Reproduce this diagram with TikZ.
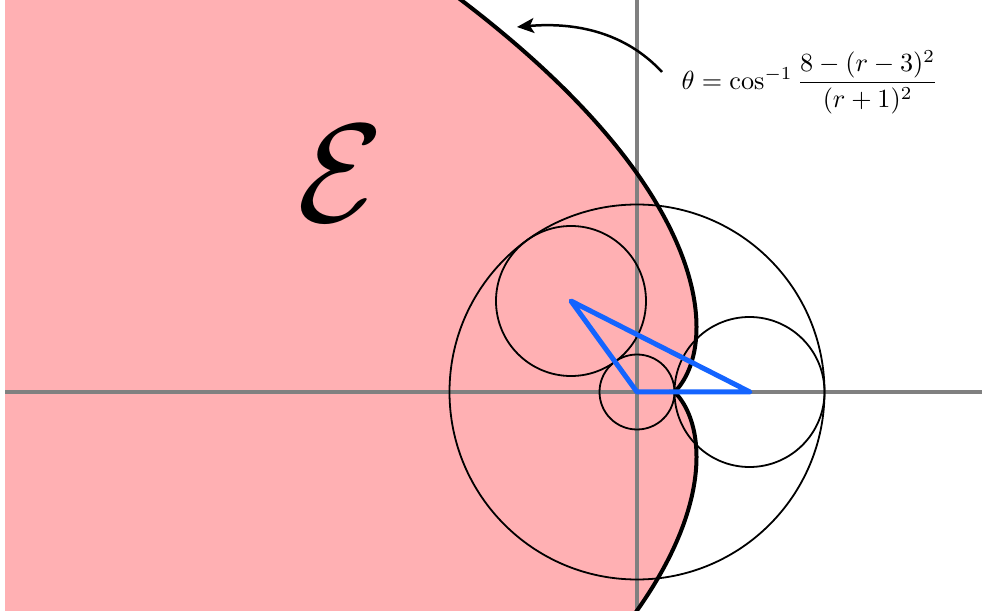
\documentclass[tikz,border=0pt]{standalone}
\usetikzlibrary{arrows.meta}
\definecolor{regionpink}{RGB}{255,176,179}
\definecolor{axisgray}{RGB}{128,128,128}
\definecolor{triblue}{RGB}{20,100,255}
\begin{document}
\begin{tikzpicture}[x=0.5pt,y=-0.5pt,
  declare function={th(\r)=acos(max(-1,min(1,(8-(\r-3)*(\r-3))/((\r+1)*(\r+1)))));},
  axisline/.style={draw=axisgray,line width=2.2pt},
  thincircle/.style={draw=black,line width=0.9pt},
  boundary/.style={draw=black,line width=2pt},
  triangle/.style={draw=triblue,line width=2.5pt,line join=round},
  pointer/.style={draw=black,line width=1.25pt,-{Stealth[length=8.5pt,width=7.5pt,inset=2pt]}}]
\useasboundingbox (0,0) rectangle (982,615);
\coordinate (O) at (637,392);
\coordinate (C1) at (571,301);
\coordinate (P) at (750,392);
\coordinate (C2) at (749.5,392);
\coordinate (axL) at (5,392);
\coordinate (axR) at (982,392);
\coordinate (axT) at (637,0);
\coordinate (axB) at (637,610);
\coordinate (arrS) at (662,72);
\coordinate (arrE) at (517,27);
\begin{scope}
\clip (5,0) rectangle (982,610);
% region E
\fill[regionpink]
  plot[domain=12:1,samples=300,smooth] ({637+37.5*\x*cos(th(\x))},{392-37.5*\x*sin(th(\x))})
  -- plot[domain=1:12,samples=300,smooth] ({637+37.5*\x*cos(th(\x))},{392+37.5*\x*sin(th(\x))})
  -- (0,800) -- (0,-20) -- cycle;
% axes
\draw[axisline] (axL) -- (axR);
\draw[axisline] (axT) -- (axB);
% circles
\draw[thincircle] (O) circle[radius=37.5];
\draw[thincircle] (O) circle[radius=187.5];
\draw[thincircle] (C2) circle[radius=75];
\draw[thincircle] (C1) circle[radius=75];
% boundary curve
\draw[boundary]
  plot[domain=12:1,samples=300,smooth] ({637+37.5*\x*cos(th(\x))},{392-37.5*\x*sin(th(\x))})
  -- plot[domain=1:12,samples=300,smooth] ({637+37.5*\x*cos(th(\x))},{392+37.5*\x*sin(th(\x))});
\end{scope}
% triangle
\draw[triangle] (O) -- (C1) -- (P) -- cycle;
% pointer arrow
\draw[pointer] (arrS) .. controls (625,32) and (575,22) .. (arrE);
% labels
\node (calE) at (341,174) [scale=7] {$\mathcal{E}$};
\node (formula) [anchor=west,scale=1.31,inner sep=0pt] at (681,82)
  {$\theta=\cos^{-1}\displaystyle\frac{8-(r-3)^2}{(r+1)^2}$};
\end{tikzpicture}
\end{document}
